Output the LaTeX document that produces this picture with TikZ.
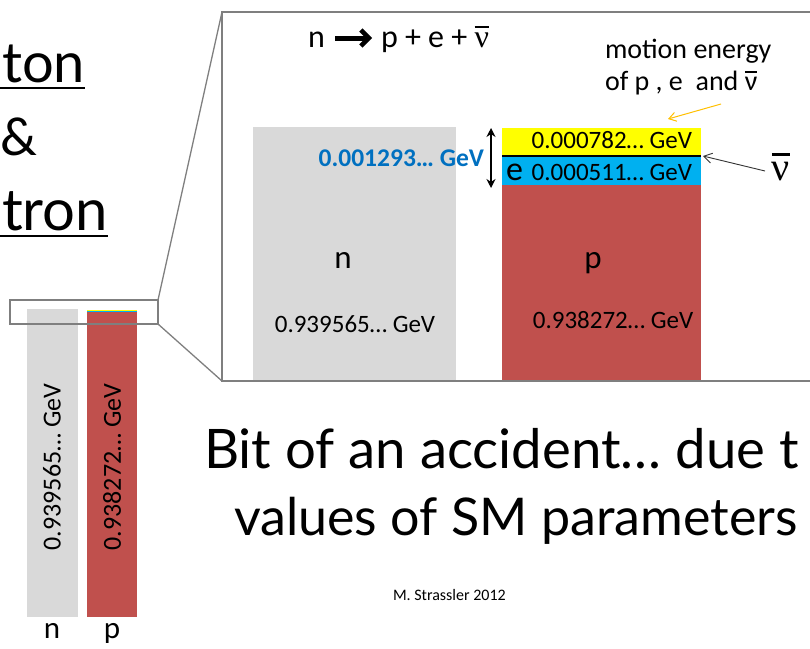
\documentclass[tikz,border=0pt]{standalone}
\usepackage{fontspec}
\setmainfont{Carlito}
\newfontfamily\gill{Lato}
\newfontfamily\dejavu{DejaVu Sans}
\newfontfamily\serifgreek{Liberation Serif}
\usetikzlibrary{arrows.meta}
\definecolor{bargray}{HTML}{D9D9D9}
\definecolor{barred}{HTML}{C0504D}
\definecolor{baryellow}{HTML}{FFFF00}
\definecolor{barblue}{HTML}{00B0F0}
\definecolor{txtblue}{HTML}{0070C0}
\definecolor{framegray}{HTML}{7F7F7F}
\definecolor{arrorange}{HTML}{FFC000}
\newcommand\fs[1]{\fontsize{#1}{#1}\selectfont}
\newcommand\nubarS{\leavevmode\vbox{\hrule height 0.075em\kern0.13em\hbox{\serifgreek ν}}}
\newcommand\nubarC{\leavevmode\vbox{\hrule height 0.08em\kern0.12em\hbox{ν}}}
\tikzset{
  barbox/.style={inner sep=0pt, outer sep=0pt, anchor=north west, draw=none},
  framestyle/.style={draw=framegray, line width=2.5pt},
  linkline/.style={draw=framegray, line width=1.3pt},
  lbl/.style={inner sep=0pt, outer sep=0pt},
  ulinestyle/.style={line width=2.5pt, black},
  heavyarrow/.style={line width=5pt, -{Straight Barb[length=8pt,width=16pt,line width=4.5pt]}},
}
\begin{document}
\begin{tikzpicture}[x=1pt,y=-1pt]
\useasboundingbox (0,0) rectangle (810,648);
\clip (0,0) rectangle (810,648);

% left title fragments
\node[lbl, anchor=base east, font=\gill\fs{56}] (ton) at (85,82) {ton};
\draw[ulinestyle] (0,88) -- (ton.base east |- 0,88);
\node[lbl, anchor=base west, font=\gill\fs{52}] (amp) at (1,155) {\&};
\node[lbl, anchor=base east, font=\gill\fs{58}] (tron) at (108,230) {tron};
\draw[ulinestyle] (0,236) -- (tron.base east |- 0,236);

% left full-scale bars
\node[barbox, fill=bargray, minimum width=51pt, minimum height=308pt] (nbar) at (27,309) {};
\node[barbox, fill=barred, minimum width=50pt, minimum height=307pt] (pbar) at (87,310) {};
\fill[baryellow] (87,309.6) rectangle (137,310.5);
\fill[barblue] (87,310.5) rectangle (137,311.5);
\node[lbl, rotate=90, font=\fs{26}] (nval) at (52,467) {0.939565… GeV};
\node[lbl, rotate=90, font=\fs{26}] (pval) at (112,467) {0.938272… GeV};
\node[lbl, anchor=base, font=\fs{31}] (nlab) at (52,638) {n};
\node[lbl, anchor=base, font=\fs{31}] (plab) at (112,638) {p};

% zoom box and magnified frame
\node[barbox, framestyle, minimum width=148pt, minimum height=24pt] (zbox) at (10,300) {};
\coordinate (fTL) at (222,12);
\coordinate (fBL) at (222,381);
\draw[linkline] (zbox.north east) -- (fTL);
\draw[linkline] (zbox.south east) -- (fBL);
\fill[white] (222,12) rectangle (850,381);

% magnified bars
\node[barbox, fill=bargray, minimum width=203pt, minimum height=254pt] (nbig) at (253,127) {};
\node[barbox, fill=baryellow, minimum width=199pt, minimum height=28pt] (ybig) at (502,128) {};
\node[barbox, fill=barblue, minimum width=199pt, minimum height=29pt] (bbig) at (502,156) {};
\node[barbox, fill=barred, minimum width=199pt, minimum height=196pt] (rbig) at (502,185) {};
\draw[line width=1.3pt, black] (ybig.south west) -- (ybig.south east);
\draw[framestyle] (222,12) rectangle (850,381);

% labels in the frame
\node[lbl, anchor=base west, font=\fs{32}] (tn) at (308,47) {n};
\node[lbl, anchor=base west, font=\fs{32}] (tprod) at (381,47) {p + e + \nubarS};
\coordinate (arrS) at (335,38);
\coordinate (arrE) at (372,38);
\draw[heavyarrow] (arrS) -- (arrE);
\node[lbl, anchor=base, font=\fs{33}] (nbiglab) at (343,268) {n};
\node[lbl, anchor=base, font=\fs{33}] (pbiglab) at (593,268) {p};
\node[lbl, anchor=base, font=\fs{25}] (nbigval) at (355,332) {0.939565… GeV};
\node[lbl, anchor=base, font=\fs{25}] (pbigval) at (613,328) {0.938272… GeV};
\node[lbl, anchor=base east, font=\fs{25}] (yval) at (692,148) {0.000782… GeV};
\node[lbl, anchor=base east, font=\fs{25}] (bval) at (692,180) {{\fs{34}e}\hspace{3pt} 0.000511… GeV};
\node[lbl, anchor=base east, font=\bfseries\fs{25.5}, text=txtblue] (diffval) at (484,166) {0.001293… GeV};
\coordinate (dtop) at (491,128);
\coordinate (dbot) at (491,188);
\draw[line width=2.6pt, {Stealth[length=9pt,width=9pt]}-{Stealth[length=9pt,width=9pt]}] (dtop) -- (dbot);

\node[lbl, anchor=base west, font=\fs{28}] (motion) at (605,58) {motion energy};
\node[lbl, anchor=base west, font=\fs{28}] (ofpe) at (605,90) {of p , e \ and \nubarC};
\coordinate (otip) at (668,119);
\draw[arrorange, line width=1pt, -{Straight Barb[length=7pt,width=9pt]}] (721,104) -- (otip);

\node[lbl, anchor=base, font=\fs{40}] (nuright) at (781,180) {\nubarS};
\coordinate (ntip) at (703,156);
\draw[black!80, line width=0.9pt, -{Straight Barb[length=8pt,width=10pt]}] (765,171) -- (ntip);

% bottom text
\node[lbl, anchor=base west, font=\gill\fs{54.5}] (bit) at (204,468) {Bit of an accident… due t};
\node[lbl, anchor=base west, font=\gill\fs{52}] (vals) at (234,535) {values of SM parameters};
\node[lbl, anchor=base west, font=\fs{16}] (auth) at (393,600) {M. Strassler 2012};
\end{tikzpicture}
\end{document}
